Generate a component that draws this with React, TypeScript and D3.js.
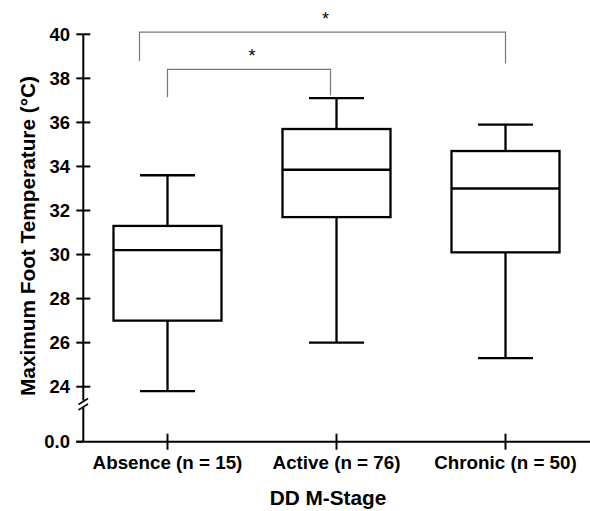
import React, { useEffect, useRef } from "react";
import * as d3 from "d3";

// categories and box statistics (°C)
const CATEGORIES = ["Absence (n = 15)", "Active (n = 76)", "Chronic (n = 50)"];
const MINS = [23.8, 26.0, 25.3];
const Q1S = [27.0, 31.7, 30.1];
const MEDIANS = [30.2, 33.85, 33.0];
const Q3S = [31.3, 35.7, 34.7];
const MAXS = [33.6, 37.1, 35.9];

const Y_TICKS = [24, 26, 28, 30, 32, 34, 36, 38, 40];

// significance brackets: from category, to category, bar level, leg ends
const BRACKETS = [
  { from: 0, to: 2, fromDx: -28, toDx: 0, level: 40.1, legFrom: 38.8, legTo: 38.67, label: "*" },
  { from: 0, to: 1, fromDx: 0, toDx: -6, level: 38.41, legFrom: 37.14, legTo: 37.23, label: "*" },
];

const FONT = "Arial, 'Liberation Sans', sans-serif";

export default function App() {
  const svgRef = useRef<SVGSVGElement>(null);

  useEffect(() => {
    const svg = d3.select(svgRef.current);
    svg.selectAll("*").remove();

    const x = d3.scalePoint<string>().domain(CATEGORIES).range([83, 590]).padding(0.5);
    const y = d3.scaleLinear().domain([24, 40]).range([386.7, 34.3]);
    const y0 = 441.7; // position of the 0.0 tick below the break
    const axisX = 83.3;
    const boxW = 108, capW = 55;

    const boxes = CATEGORIES.map((c, i) => ({
      c, min: MINS[i], q1: Q1S[i], med: MEDIANS[i], q3: Q3S[i], max: MAXS[i],
    }));

    const g = svg.append("g").attr("stroke", "#000").attr("fill", "none");

    // whiskers
    boxes.forEach(b => {
      const cx = x(b.c)!;
      g.append("line").attr("x1", cx).attr("x2", cx).attr("y1", y(b.max)).attr("y2", y(b.q3)).attr("stroke-width", 2.3);
      g.append("line").attr("x1", cx).attr("x2", cx).attr("y1", y(b.q1)).attr("y2", y(b.min)).attr("stroke-width", 2.3);
      g.append("line").attr("x1", cx - capW / 2).attr("x2", cx + capW / 2).attr("y1", y(b.max)).attr("y2", y(b.max)).attr("stroke-width", 2.3);
      g.append("line").attr("x1", cx - capW / 2).attr("x2", cx + capW / 2).attr("y1", y(b.min)).attr("y2", y(b.min)).attr("stroke-width", 2.3);
      g.append("rect").attr("x", cx - boxW / 2).attr("width", boxW)
        .attr("y", y(b.q3)).attr("height", y(b.q1) - y(b.q3))
        .attr("fill", "#fff").attr("stroke-width", 2.3);
      g.append("line").attr("x1", cx - boxW / 2).attr("x2", cx + boxW / 2).attr("y1", y(b.med)).attr("y2", y(b.med)).attr("stroke-width", 2.3);
    });

    // brackets
    const br = svg.append("g");
    BRACKETS.forEach(b => {
      const x1 = x(CATEGORIES[b.from])! + b.fromDx;
      const x2 = x(CATEGORIES[b.to])! + b.toDx;
      br.append("path")
        .attr("d", `M${x1},${y(b.legFrom)}V${y(b.level)}H${x2}V${y(b.legTo)}`)
        .attr("fill", "none").attr("stroke", "#777").attr("stroke-width", 1.2);
      br.append("text").attr("x", (x1 + x2) / 2 + 3).attr("y", y(b.level) - 7)
        .attr("text-anchor", "middle").attr("font-family", FONT).attr("font-size", 18)
        .attr("fill", "#000").text(b.label);
    });

    // y axis
    const ax = svg.append("g").attr("stroke", "#000").attr("stroke-width", 2);
    ax.append("line").attr("x1", axisX).attr("x2", axisX).attr("y1", y(40)).attr("y2", 400.5);
    ax.append("line").attr("x1", axisX).attr("x2", axisX).attr("y1", 407.5).attr("y2", y0);
    ax.append("line").attr("x1", 78.5).attr("x2", 88).attr("y1", 404.5).attr("y2", 398.5).attr("stroke-width", 1.6);
    ax.append("line").attr("x1", 78.5).attr("x2", 88).attr("y1", 410).attr("y2", 404).attr("stroke-width", 1.6);
    Y_TICKS.forEach(t => {
      ax.append("line").attr("x1", axisX - 7).attr("x2", axisX + 7).attr("y1", y(t)).attr("y2", y(t));
    });
    ax.append("line").attr("x1", axisX - 7).attr("x2", axisX).attr("y1", y0).attr("y2", y0);

    const labels = svg.append("g").attr("font-family", FONT).attr("font-weight", "bold").attr("fill", "#000");
    Y_TICKS.forEach(t => {
      labels.append("text").attr("x", 70).attr("y", y(t)).attr("dy", "0.36em")
        .attr("text-anchor", "end").attr("font-size", 18.5).text(String(t));
    });
    labels.append("text").attr("x", 70).attr("y", y0).attr("dy", "0.36em")
      .attr("text-anchor", "end").attr("font-size", 18.5).text("0.0");

    // x axis
    ax.append("line").attr("x1", axisX - 7).attr("x2", 590).attr("y1", y0).attr("y2", y0);
    CATEGORIES.forEach(c => {
      ax.append("line").attr("x1", x(c)!).attr("x2", x(c)!).attr("y1", y0 - 8).attr("y2", y0 + 8);
      labels.append("text").attr("x", x(c)!).attr("y", 469)
        .attr("text-anchor", "middle").attr("font-size", 18.8).text(c);
    });

    labels.append("text").attr("x", 328).attr("y", 505)
      .attr("text-anchor", "middle").attr("font-size", 20.8).text("DD M-Stage");
    labels.append("text")
      .attr("transform", "translate(35,236) rotate(-90)")
      .attr("text-anchor", "middle").attr("font-size", 20.8)
      .text("Maximum Foot Temperature (°C)");
  }, []);

  return (
    <svg ref={svgRef} width={590} height={511}
      style={{ position: "absolute", left: 0, top: 0, background: "#fff" }} />
  );
}
